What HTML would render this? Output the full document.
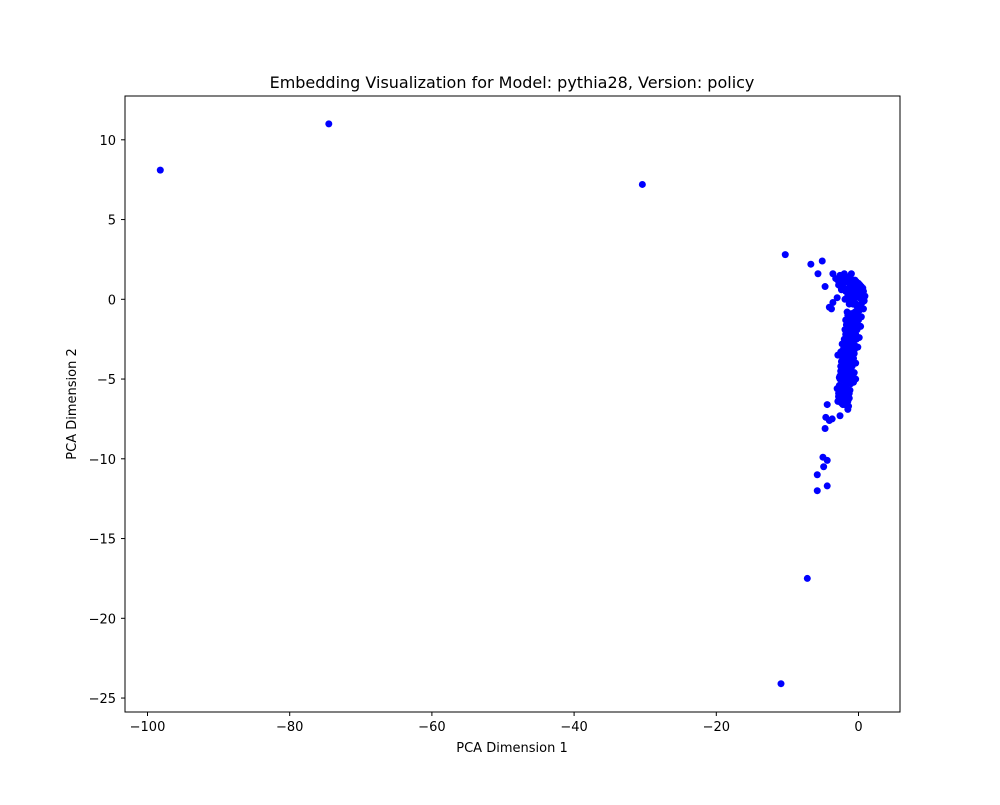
<!DOCTYPE html>
<html><head><meta charset="utf-8"><style>
body{margin:0;background:#fff;font-family:"Liberation Sans","DejaVu Sans",sans-serif}
text{font-family:"DejaVu Sans","Liberation Sans",sans-serif;fill:#000}
</style></head><body>
<svg id="chart" width="1000" height="800">
<rect width="1000" height="800" fill="#fff"/>
<text x="512" y="88" font-size="16" text-anchor="middle">Embedding Visualization for Model: pythia28, Version: policy</text>
<g id="pts"></g>
<rect x="125" y="96" width="775" height="616" fill="none" stroke="#000" stroke-width="1"/>
<g id="xt"></g>
<g id="yt"></g>
<text x="512" y="752" font-size="13" text-anchor="middle">PCA Dimension 1</text>
<text x="0" y="0" font-size="13" text-anchor="middle" transform="translate(76,404) rotate(-90)">PCA Dimension 2</text>
</svg>
<script>
const xTicks=[-100,-80,-60,-40,-20,0];
const yTicks=[10,5,0,-5,-10,-15,-20,-25];
const xs=[-98.2,-74.5,-30.4,-10.3,-7.2,-10.9,-6.7,-5.1,-5.7,-4.7,-3.6,-3.6,-4.1,-3.8,-4.4,-4.6,-3.7,-4.1,-4.7,-2.6,-3.0,-0.4,-5.0,-4.4,-4.9,-5.8,-4.4,-5.8,
-3.2,-2.6,-2.0,-1.5,-1.0,-0.5,0.0,0.4,0.7,-2.8,-2.2,-1.6,-1.1,-0.6,-0.1,0.3,0.6,0.9,-2.4,-1.8,-1.2,-0.7,-0.2,0.2,0.5,0.8,-3.0,-1.9,-1.3,-0.8,-0.3,0.1,0.4,0.7,
-1.6,-1.0,-0.5,0.0,0.4,-1.8,-1.2,-0.6,-0.1,0.3,-1.9,-1.4,-0.9,-0.4,0.1,-2.0,-1.5,-1.0,-0.5,-0.1,-2.1,-1.6,-1.1,-0.6,-2.3,-1.8,-1.3,-0.8,-0.4,-2.5,-2.0,-1.5,-1.0,-0.6,
-2.6,-2.1,-1.6,-1.1,-0.7,-2.7,-2.2,-1.7,-1.2,-2.8,-2.3,-1.8,-1.3,-2.9,-2.4,-1.9,-1.4,-2.9,-2.4,-1.9,-2.6,-2.0,-1.5,-2.2,-1.7,
-2.9,-2.3,-1.8,-1.3,-0.8,-0.3,0.2,0.6,-2.5,-2.0,-1.4,-0.9,-0.4,0.0,0.5,-1.5,-1.0,-0.4,0.1,0.5,-1.3,-0.8,-0.3,0.1,-1.5,-1.0,-0.5,0.0,-1.7,-1.2,-0.7,-0.2,
-1.8,-1.3,-0.8,-0.3,-2.0,-1.5,-1.0,-0.5,-2.2,-1.7,-1.2,-0.7,-2.4,-1.9,-1.4,-0.9,-2.5,-2.0,-1.5,-1.0,-2.6,-2.1,-1.6,-1.1,-2.7,-2.2,-1.7,-1.3,-2.8,-2.3,-1.8,-1.5,
-2.7,-2.1,-1.6,-2.5,-1.9,-2.3,-1.8,-2.1,-2.6,-2.2,-1.9,-1.6];
const ys=[8.1,11.0,7.2,2.8,-17.5,-24.1,2.2,2.4,1.6,0.8,1.6,-0.2,-0.5,-0.6,-6.6,-7.4,-7.5,-7.6,-8.1,-7.3,-5.6,-5.0,-9.9,-10.1,-10.5,-11.0,-11.7,-12.0,
1.3,1.5,1.6,1.4,1.6,1.2,1.0,0.8,0.5,0.9,1.0,1.1,1.0,0.9,0.7,0.5,0.3,0.2,0.6,0.5,0.4,0.4,0.3,0.2,0.0,-0.1,0.1,0.0,-0.1,-0.2,-0.3,-0.4,-0.5,-0.6,
-0.8,-0.9,-0.8,-1.0,-1.1,-1.3,-1.4,-1.5,-1.6,-1.7,-1.9,-2.0,-2.1,-2.2,-2.4,-2.5,-2.6,-2.7,-2.9,-3.0,-3.1,-3.2,-3.3,-3.4,-3.6,-3.7,-3.8,-3.9,-4.0,-4.2,-4.3,-4.4,-4.5,-4.6,
-4.8,-4.9,-5.0,-5.1,-5.2,-5.4,-5.5,-5.6,-5.7,-5.9,-6.0,-6.1,-6.2,-6.4,-6.5,-6.6,-6.7,-3.5,-4.6,-5.8,-6.3,-3.0,-6.9,-4.1,-5.3,
1.2,1.3,1.2,1.3,1.2,1.1,0.9,0.7,0.8,0.7,0.7,0.6,0.6,0.5,0.4,0.2,0.2,0.1,0.1,-0.2,-0.3,-0.3,-0.4,-0.7,-1.0,-1.1,-1.2,-1.3,-1.6,-1.7,-1.8,-1.9,
-2.2,-2.3,-2.4,-2.5,-2.8,-2.9,-3.0,-3.1,-3.4,-3.5,-3.6,-3.7,-3.9,-4.0,-4.1,-4.2,-4.5,-4.6,-4.7,-4.8,-5.0,-5.1,-5.2,-5.3,-5.6,-5.7,-5.8,-5.9,-6.1,-6.2,-6.3,-6.4,
-4.9,-4.4,-4.0,-3.3,-3.8,-2.8,-2.6,-5.5,-6.0,-6.6,-6.5,-6.0];
const X=v=>858.5+v*7.11, Y=v=>299.3-v*15.95;
const ns='http://www.w3.org/2000/svg';
const pg=document.getElementById('pts');
for(let i=0;i<Math.min(xs.length,ys.length);i++){const c=document.createElementNS(ns,'circle');
c.setAttribute('cx',X(xs[i]));c.setAttribute('cy',Y(ys[i]));c.setAttribute('r',3.5);c.setAttribute('fill','#0000ff');


pg.appendChild(c);}
const xg=document.getElementById('xt');
xTicks.forEach(t=>{const x=X(t);const l=document.createElementNS(ns,'line');
l.setAttribute('x1',x);l.setAttribute('x2',x);l.setAttribute('y1',712);l.setAttribute('y2',716);l.setAttribute('stroke','#000');


xg.appendChild(l);const s=document.createElementNS(ns,'text');s.setAttribute('x',x);s.setAttribute('y',731);s.setAttribute('font-size','13');s.setAttribute('text-anchor','middle');
s.textContent=t<0?'\u2212'+(-t):t;


xg.appendChild(s);});
const yg=document.getElementById('yt');
yTicks.forEach(t=>{const y=Y(t);const l=document.createElementNS(ns,'line');
l.setAttribute('x1',121);l.setAttribute('x2',125);l.setAttribute('y1',y);l.setAttribute('y2',y);l.setAttribute('stroke','#000');


yg.appendChild(l);const s=document.createElementNS(ns,'text');s.setAttribute('x',116);s.setAttribute('y',y+5);s.setAttribute('font-size','13');s.setAttribute('text-anchor','end');
s.textContent=t<0?'\u2212'+(-t):t;


yg.appendChild(s);});
</script>
</body></html>
